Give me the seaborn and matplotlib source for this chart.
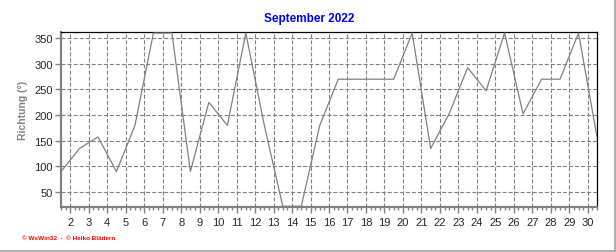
import numpy as np
import pandas as pd
import matplotlib
matplotlib.use("Agg")
import matplotlib.pyplot as plt
from matplotlib.lines import Line2D
from matplotlib.ticker import MultipleLocator
import seaborn as sns

# ---- data ----
days = list(range(1, 31))
direction = [90, 135, 157.5, 90, 180, 360, 360, 90, 225, 180,
             360, 180, 22.5, 22.5, 180, 270, 270, 270, 270, 360,
             135, 202.5, 292.5, 247.5, 360, 202.5, 270, 270, 360, 157.5]
x_tick_labels = [str(d) for d in range(2, 31)]
y_ticks = [50, 100, 150, 200, 250, 300, 350]
title = "September 2022"
y_label = "Richtung (°)"
credit = "© WsWin32  -  © Heiko Blädern"

sns.set_style("white")
plt.rcParams['font.family'] = ['Liberation Sans', 'DejaVu Sans']
plt.rcParams['lines.scale_dashes'] = False

df = pd.DataFrame({"pos": np.array(days) + 0.5, "dir": direction})

fig = plt.figure(figsize=(6.16, 2.53), dpi=100)
fig.patch.set_facecolor("white")
ax = fig.add_axes([61/616, 1-208/253, (597-61)/616, (208-33)/253])
ax.set_facecolor("white")

sns.lineplot(data=df, x="pos", y="dir", ax=ax, color="#808080", linewidth=0.9,
             estimator=None, sort=True, zorder=3)

ax.set_xlim(1.5, 30.5)
ax.set_ylim(21, 362)

ax.set_xticks(range(2, 31))
ax.set_xticklabels(x_tick_labels, fontsize=8)
ax.xaxis.set_minor_locator(MultipleLocator(0.25))
ax.set_yticks(y_ticks)
ax.set_yticklabels([str(v) for v in y_ticks], fontsize=8)

ax.tick_params(axis='x', which='major', direction='out', length=4, width=1,
               color='#808080', pad=3, bottom=True)
ax.tick_params(axis='x', which='minor', direction='out', length=2, width=1,
               color='#808080', bottom=True)
ax.tick_params(axis='y', which='major', direction='out', length=4, width=1,
               color='#808080', pad=2, left=True)

ax.grid(True, which='major', color='#808080', linewidth=0.8,
        linestyle=(0, (2.9, 1.45)), zorder=1)

for s in ['left', 'bottom']:
    ax.spines[s].set_color('#808080')
    ax.spines[s].set_linewidth(1.6)
for s in ['top', 'right']:
    ax.spines[s].set_color('black')
    ax.spines[s].set_linewidth(0.9)

ax.set_xlabel("")
ax.set_ylabel(y_label, fontsize=7.5, fontweight='bold', color='#808080')
ax.yaxis.set_label_coords(-0.062, 0.56)

fig.text(309/616, 1-19/253, title, ha='center', va='center',
         fontsize=8.5, fontweight='bold', color='#0000FF')
fig.text(22/616, 1-239/253, credit, ha='left', va='center',
         fontsize=4.6, fontweight='bold', color='#FF0000')

# figure frame (right and bottom edges)
fig.add_artist(Line2D([0, 615/616], [1.5/253, 1.5/253], color='#a0a0a0', linewidth=1.2,
                      transform=fig.transFigure))
fig.add_artist(Line2D([614.5/616, 614.5/616], [1.5/253, 1], color='#a0a0a0', linewidth=1.2,
                      transform=fig.transFigure))

fig.savefig("out.png", dpi=100, facecolor="white")
